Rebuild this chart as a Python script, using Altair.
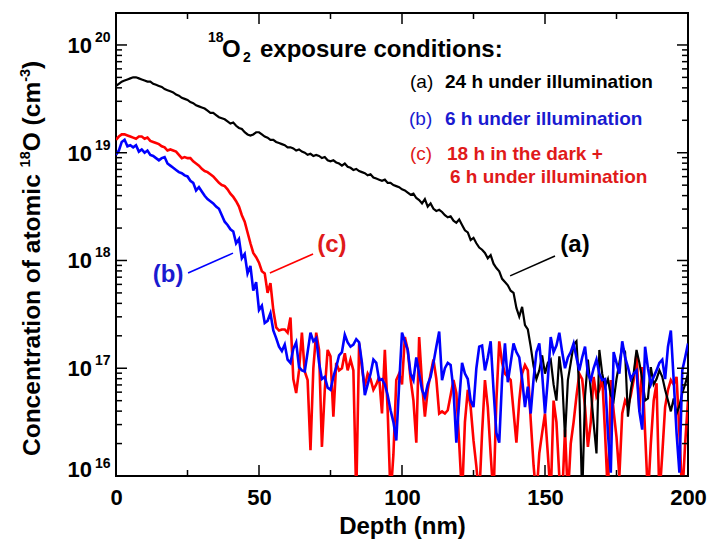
import altair as alt
import pandas as pd

# ---------------- data (log10 of concentration, cm^-3) ----------------
depth = list(range(0, 201))

log_a = [
    19.62, 19.64, 19.66, 19.67, 19.68, 19.69, 19.70, 19.70, 19.69, 19.68,
    19.67, 19.66, 19.66, 19.64, 19.63, 19.62, 19.61, 19.59, 19.58, 19.57,
    19.56, 19.54, 19.53, 19.51, 19.50, 19.49, 19.47, 19.46, 19.44, 19.43,
    19.42, 19.41, 19.39, 19.37, 19.37, 19.35, 19.33, 19.32, 19.31, 19.29,
    19.27, 19.28, 19.25, 19.23, 19.22, 19.19, 19.17, 19.16, 19.17, 19.19,
    19.19, 19.17, 19.15, 19.14, 19.12, 19.12, 19.10, 19.09, 19.08, 19.07,
    19.05, 19.05, 19.04, 19.02, 19.03, 19.01, 19.00, 18.98, 18.99, 18.97,
    18.98, 18.97, 18.95, 18.96, 18.93, 18.92, 18.93, 18.91, 18.90, 18.88,
    18.90, 18.87, 18.86, 18.84, 18.85, 18.83, 18.82, 18.81, 18.79, 18.80,
    18.77, 18.76, 18.75, 18.74, 18.75, 18.72, 18.72, 18.70, 18.69, 18.68,
    18.66, 18.65, 18.63, 18.61, 18.62, 18.58, 18.56, 18.53, 18.57, 18.50,
    18.53, 18.48, 18.46, 18.47, 18.45, 18.42, 18.40, 18.41, 18.37, 18.35,
    18.38, 18.33, 18.28, 18.26, 18.19, 18.21, 18.16, 18.12, 18.10, 18.07,
    18.02, 18.05, 17.97, 17.93, 17.90, 17.83, 17.80, 17.77, 17.72, 17.70,
    17.56, 17.48, 17.57, 17.40, 17.36, 17.20, 17.02, 16.90, 16.98, 17.12,
    16.95, 17.05, 17.08, 16.85, 16.70, 17.11, 16.90, 16.36, 16.89, 17.05,
    17.22, 17.25, 16.80, 15.80, 16.74, 17.08, 16.80, 16.49, 16.21, 17.17,
    16.95, 16.83, 16.90, 16.75, 16.70, 16.90, 17.05, 17.20, 17.15, 16.55,
    16.80, 16.95, 17.17, 17.05, 16.90, 16.70, 16.72, 17.01, 16.85, 16.90,
    16.98, 16.92, 16.80, 16.70, 16.60, 16.72, 16.58, 16.65, 16.77, 16.85,
    16.95,
]

log_b = [
    18.98, 19.02, 19.10, 19.12, 19.06, 19.07, 19.05, 19.07, 19.01, 19.03,
    19.00, 19.02, 18.98, 18.97, 18.95, 18.93, 18.95, 18.96, 18.90, 18.88,
    18.86, 18.84, 18.82, 18.81, 18.79, 18.78, 18.74, 18.72, 18.65, 18.68,
    18.64, 18.60, 18.57, 18.55, 18.53, 18.50, 18.48, 18.42, 18.36, 18.33,
    18.29, 18.27, 18.16, 18.20, 18.02, 18.06, 17.88, 17.95, 17.72, 17.80,
    17.54, 17.58, 17.42, 17.44, 17.51, 17.35, 17.28, 17.20, 17.16, 17.22,
    17.08, 17.05, 17.18, 17.24, 17.01, 16.98, 16.97, 17.15, 17.33, 17.25,
    17.28, 17.05, 16.90, 16.92, 16.82, 16.80, 16.92, 17.01, 17.12, 17.15,
    17.31, 17.24, 17.20, 17.22, 17.27, 17.24, 17.05, 16.75, 16.85, 16.95,
    17.08, 17.05, 16.89, 16.90, 16.85, 16.75, 16.61, 16.50, 16.33, 16.85,
    17.33, 17.25, 17.17, 16.95, 16.89, 17.10, 16.95, 16.80, 16.73, 16.85,
    16.92, 17.05, 17.20, 17.34, 16.89, 17.00, 17.05, 17.03, 16.80, 16.31,
    16.70, 17.05, 16.95, 16.90, 16.70, 16.64, 17.00, 17.20, 17.21, 16.98,
    17.10, 17.25, 16.80, 16.40, 16.31, 16.90, 17.23, 16.87, 17.05, 17.23,
    17.15, 17.10, 16.90, 16.64, 16.83, 16.58, 16.90, 17.15, 17.23, 16.95,
    16.58, 16.90, 17.29, 17.15, 17.21, 17.33, 17.15, 17.00, 17.10, 17.15,
    17.23, 17.10, 16.98, 17.10, 17.20, 16.95, 16.89, 17.00, 17.08, 16.95,
    16.89, 16.90, 16.40, 16.03, 17.15, 17.05, 16.95, 17.25, 17.10, 17.01,
    16.90, 16.95, 16.98, 16.60, 16.43, 17.20, 17.00, 16.85, 16.92, 16.98,
    17.05, 17.08, 16.90, 17.20, 17.35, 16.89, 16.40, 16.03, 16.98, 17.10,
    17.23,
]

log_c = [
    19.12, 19.15, 19.17, 19.17, 19.16, 19.15, 19.14, 19.13, 19.15, 19.15,
    19.13, 19.14, 19.11, 19.10, 19.09, 19.08, 19.06, 19.05, 19.02, 19.03,
    19.02, 19.01, 18.98, 18.95, 18.96, 18.95, 18.95, 18.92, 18.90, 18.88,
    18.85, 18.83, 18.82, 18.80, 18.78, 18.75, 18.72, 18.70, 18.69, 18.66,
    18.62, 18.59, 18.55, 18.50, 18.42, 18.36, 18.26, 18.16, 18.07, 18.03,
    17.98, 17.90, 17.88, 17.70, 17.79, 17.54, 17.38, 17.35, 17.36, 17.36,
    17.33, 17.47, 16.90, 16.77, 16.98, 17.33, 16.97, 16.89, 16.24, 17.00,
    17.33, 17.17, 16.27, 16.80, 17.17, 17.11, 16.55, 17.05, 16.98, 17.00,
    17.14, 16.98, 17.08, 16.98, 15.80, 17.23, 17.00, 16.83, 16.95, 16.90,
    16.80, 16.85, 16.92, 16.58, 17.17, 16.60, 15.80, 16.20, 16.89, 16.95,
    16.85, 17.29, 17.17, 16.90, 16.70, 16.31, 17.29, 16.86, 16.55, 16.80,
    16.95, 17.08, 16.90, 16.58, 16.60, 16.58, 16.61, 16.75, 16.89, 16.77,
    16.30, 15.80, 16.50, 16.80, 16.64, 16.33, 16.09, 15.80, 16.40, 16.89,
    16.64, 16.20, 15.80, 16.70, 17.25, 17.05, 16.95, 16.92, 16.89, 16.60,
    16.31, 16.70, 16.95, 17.03, 16.98, 16.52, 16.10, 15.80, 16.21, 16.40,
    16.58, 16.20, 15.80, 16.70, 16.50, 16.00, 15.80, 16.43, 15.80, 16.30,
    16.50, 16.74, 16.95, 16.90, 16.64, 16.27, 16.50, 16.92, 16.74, 16.80,
    16.92, 16.40, 15.80, 16.89, 16.60, 16.36, 16.00, 16.58, 16.70, 16.64,
    16.75, 16.89, 17.14, 16.60, 17.01, 16.40, 15.80, 16.30, 16.70, 16.86,
    15.80, 16.20, 16.64, 16.80, 16.89, 16.85, 16.92, 16.40, 15.80, 16.30,
    16.70,
]

x_major = [0, 50, 100, 150, 200]
x_minor = [25, 75, 125, 175]
y_major = [1e16, 1e17, 1e18, 1e19, 1e20]
y_exps = ["16", "17", "18", "19", "20"]
y_minor = [m * 10.0 ** k for k in range(16, 20) for m in range(2, 10)]

# callouts: (series, line start depth, start conc, end depth, end conc, label depth, label conc)
call_series = ["a", "b", "c"]
call_text = ["(a)", "(b)", "(c)"]
call_d1 = [137.8, 25.2, 53.8]
call_c1 = [7.2e17, 7.65e17, 7.65e17]
call_d2 = [153.5, 40.9, 68.9]
call_c2 = [1.1e18, 1.17e18, 1.15e18]
call_ld = [160.5, 18.2, 75.5]
call_lc = [1.38e18, 7.3e17, 1.38e18]

# ---------------- build tables ----------------
rows = []
for s, arr in (("a", log_a), ("b", log_b), ("c", log_c)):
    for d, v in zip(depth, arr):
        rows.append({"depth": d, "conc": 10 ** v, "series": s})
df = pd.DataFrame(rows)

FONT = "Liberation Sans"
W, H = 572, 463
LINE_COL = {"a": "#000000", "b": "#0000ff", "c": "#ff0000"}
TEXT_COL = {"a": "#000000", "b": "#1a1ad0", "c": "#e01a1a"}

x_scale = alt.Scale(domain=[0, 200], nice=False, zero=False)
y_scale = alt.Scale(type="log", domain=[1e16, 1.98e20], nice=False)
x_axis = alt.Axis(values=x_major, ticks=False, domain=False, grid=False,
                  labelFont=FONT, labelFontSize=22, labelFontWeight="bold",
                  labelColor="black", labelPadding=11, labelFlush=False,
                  labelOverlap=False, title="Depth (nm)", titleFont=FONT,
                  titleFontSize=24, titleFontWeight="bold", titleColor="black",
                  titlePadding=6)


def X(field="depth"):
    return alt.X(f"{field}:Q", scale=x_scale, axis=x_axis)


def Y(field="conc"):
    return alt.Y(f"{field}:Q", scale=y_scale, axis=None)


def series_line(s, width):
    return alt.Chart(df).transform_filter(alt.datum.series == s).mark_line(
        color=LINE_COL[s], strokeWidth=width, clip=True, strokeJoin="miter"
    ).encode(x=X(), y=Y())


layers = [series_line("c", 2.6), series_line("a", 2.2), series_line("b", 2.6)]

# inward ticks
ymaj = pd.DataFrame({"conc": y_major})
ymin = pd.DataFrame({"conc": y_minor})
xmaj = pd.DataFrame({"depth": x_major})
xmin = pd.DataFrame({"depth": x_minor})
for dfr, ln in ((ymaj, 11), (ymin, 6)):
    layers.append(alt.Chart(dfr).mark_rule(color="black", strokeWidth=1.5).encode(
        y=Y(), x=alt.value(0), x2=alt.value(ln)))
    layers.append(alt.Chart(dfr).mark_rule(color="black", strokeWidth=1.5).encode(
        y=Y(), x=alt.value(W), x2=alt.value(W - ln)))
for dfr, ln in ((xmaj, 11), (xmin, 6)):
    layers.append(alt.Chart(dfr).mark_rule(color="black", strokeWidth=1.5).encode(
        x=X(), y=alt.value(H), y2=alt.value(H - ln)))
    layers.append(alt.Chart(dfr).mark_rule(color="black", strokeWidth=1.5).encode(
        x=X(), y=alt.value(0), y2=alt.value(ln)))

# y tick labels 10^n
ylab = pd.DataFrame({"conc": y_major, "base": ["10"] * 5, "exp": y_exps})
top_lab = ylab.iloc[1:]
bot_lab = ylab.iloc[:1]
for part, d10, dex in ((top_lab, 8, -3), (bot_lab, 1, -8)):
    layers.append(alt.Chart(part).mark_text(
        align="right", baseline="alphabetic", dy=d10, font=FONT, fontSize=22,
        fontWeight="bold", color="black").encode(y=Y(), x=alt.value(-24), text="base:N"))
    layers.append(alt.Chart(part).mark_text(
        align="left", baseline="alphabetic", dy=dex, font=FONT, fontSize=14,
        fontWeight="bold", color="black").encode(y=Y(), x=alt.value(-21), text="exp:N"))


def txt(text, x, y, size, weight="bold", color="black", angle=0):
    kw = dict(align="left", baseline="alphabetic", font=FONT, fontSize=size,
              fontWeight=weight, color=color)
    if angle:
        kw["angle"] = angle
    return alt.Chart(pd.DataFrame({"t": [text]})).mark_text(**kw).encode(
        x=alt.value(x), y=alt.value(y), text="t:N")


# y axis title (rotated, with superscripts)
layers += [
    txt("Concentration of atomic", -76.5, 443, 24.5, angle=270),
    txt("18", -86.5, 154.4, 14.5, angle=270),
    txt("O", -76.5, 138.3, 24.5, angle=270),
    txt("(cm", -76.5, 112.4, 24.5, angle=270),
    txt("-3", -86.5, 68.8, 14.5, angle=270),
    txt(")", -76.5, 55.9, 24.5, angle=270),
]

# header and legend text
layers += [
    txt("18", 92, 29, 14),
    txt("O", 106, 44, 24),
    txt("2", 127, 49, 14),
    txt("exposure conditions:", 144, 44, 24),
    txt("(a)", 294, 75, 19, "normal", TEXT_COL["a"]),
    txt("24 h under illumination", 329, 75, 19, "bold", TEXT_COL["a"]),
    txt("(b)", 293, 112, 19, "normal", TEXT_COL["b"]),
    txt("6 h under illumination", 329, 112, 19, "bold", TEXT_COL["b"]),
    txt("(c)", 294, 147, 19, "normal", TEXT_COL["c"]),
    txt("18 h in the dark +", 331, 147, 19, "bold", TEXT_COL["c"]),
    txt("6 h under illumination", 334, 170, 19, "bold", TEXT_COL["c"]),
]

# callouts
for i, s in enumerate(call_series):
    seg = pd.DataFrame({"depth": [call_d1[i]], "conc": [call_c1[i]],
                        "depth2": [call_d2[i]], "conc2": [call_c2[i]]})
    layers.append(alt.Chart(seg).mark_rule(color=LINE_COL[s], strokeWidth=1.6).encode(
        x=X(), y=Y(), x2="depth2:Q", y2="conc2:Q"))
    lab = pd.DataFrame({"depth": [call_ld[i]], "conc": [call_lc[i]], "t": [call_text[i]]})
    layers.append(alt.Chart(lab).mark_text(
        align="center", baseline="middle", font=FONT, fontSize=24, fontWeight="bold",
        color=TEXT_COL[s]).encode(x=X(), y=Y(), text="t:N"))

chart = alt.layer(*layers).properties(
    width=W, height=H,
    padding={"left": 116, "top": 13, "right": 21, "bottom": 64},
    autosize=alt.AutoSizeParams(type="none"),
    background="white",
).configure_view(stroke="black", strokeWidth=2)

chart.save("out.html", embed_options={"renderer": "svg", "actions": False})
